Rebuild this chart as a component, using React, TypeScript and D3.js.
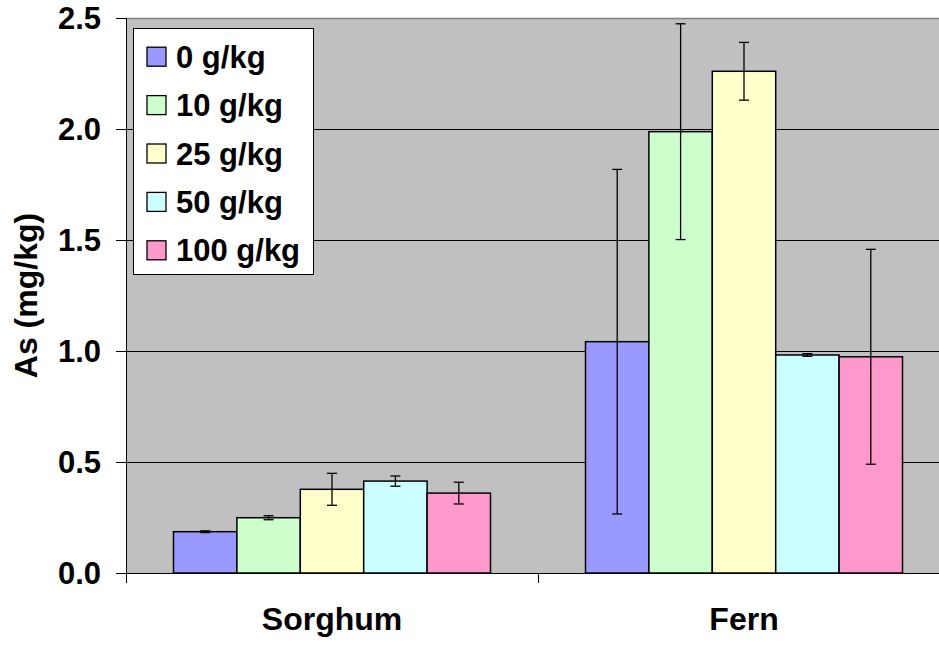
import React from "react";
import * as d3 from "d3";

const categories = ["Sorghum", "Fern"];
const series = ["0 g/kg", "10 g/kg", "25 g/kg", "50 g/kg", "100 g/kg"];
const colors = ["#9999FF", "#CCFFCC", "#FFFFCC", "#CCFFFF", "#FF99CC"];
const sorghumValues = [0.186, 0.249, 0.377, 0.414, 0.36];
const sorghumErrors = [0.004, 0.009, 0.072, 0.023, 0.049];
const fernValues = [1.042, 1.988, 2.26, 0.982, 0.974];
const fernErrors = [0.776, 0.486, 0.13, 0.006, 0.484];
const yTicks = [0, 0.5, 1.0, 1.5, 2.0, 2.5];

const W = 939;
const H = 646;
const left = 126;
const right = 950;
const top = 18;
const bottom = 573;
const FONT = "'Liberation Sans', Arial, Helvetica, sans-serif";

export default function App() {
  const values = [sorghumValues, fernValues];
  const errors = [sorghumErrors, fernErrors];
  const x0 = d3.scaleBand<string>().domain(categories).range([left, right]).paddingInner(0).paddingOuter(0);
  const groupPad = 0.1153;
  const x1 = d3
    .scaleBand<string>()
    .domain(series)
    .range([x0.bandwidth() * groupPad, x0.bandwidth() * (1 - groupPad)])
    .padding(0);
  const y = d3.scaleLinear().domain([0, 2.5]).range([bottom, top]);

  const legendX = 133;
  const legendY = 28;
  const rowH = 48.4;

  return (
    <div style={{ position: "absolute", left: 0, top: 0 }}>
      <svg width={W} height={H} style={{ display: "block" }} fontFamily={FONT}>
        <rect x={0} y={0} width={W} height={H} fill="#fff" />
        <rect x={left} y={top} width={right - left} height={bottom - top} fill="#C0C0C0" />
        <line x1={left} x2={right} y1={top + 0.5} y2={top + 0.5} stroke="#808080" strokeWidth={1.5} />
        {yTicks.slice(1, -1).map((t) => (
          <line key={t} x1={left} x2={right} y1={Math.round(y(t)) + 0.5} y2={Math.round(y(t)) + 0.5} stroke="#000" strokeWidth={1} />
        ))}
        {categories.map((c, ci) =>
          series.map((s, si) => {
            const bx = (x0(c) as number) + (x1(s) as number);
            const bw = x1.bandwidth();
            const v = values[ci][si];
            const e = errors[ci][si];
            const cx = bx + bw / 2;
            return (
              <g key={c + s}>
                <rect x={bx} y={y(v)} width={bw} height={y(0) - y(v)} fill={colors[si]} stroke="#000" strokeWidth={1.5} />
                <line x1={cx} x2={cx} y1={y(v + e)} y2={y(v - e)} stroke="#000" strokeWidth={1.3} />
                <line x1={cx - 5} x2={cx + 5} y1={y(v + e)} y2={y(v + e)} stroke="#000" strokeWidth={1.3} />
                <line x1={cx - 5} x2={cx + 5} y1={y(v - e)} y2={y(v - e)} stroke="#000" strokeWidth={1.3} />
              </g>
            );
          })
        )}
        {/* axes */}
        <line x1={left + 0.5} x2={left + 0.5} y1={top} y2={bottom + 10} stroke="#000" strokeWidth={1} />
        <line x1={left} x2={right} y1={bottom + 0.5} y2={bottom + 0.5} stroke="#000" strokeWidth={1} />
        {yTicks.map((t) => (
          <g key={"yt" + t}>
            <line x1={left - 10} x2={left} y1={Math.round(y(t)) + 0.5} y2={Math.round(y(t)) + 0.5} stroke="#000" strokeWidth={1} />
            <text x={101} y={y(t)} dy="0.36em" textAnchor="end" fontSize={31} fontWeight="bold" fill="#000">
              {t.toFixed(1)}
            </text>
          </g>
        ))}
        {categories.map((c, ci) => (
          <g key={"xc" + c}>
            {ci > 0 && (
              <line x1={(x0(c) as number) + 0.5} x2={(x0(c) as number) + 0.5} y1={bottom} y2={bottom + 10} stroke="#000" strokeWidth={1} />
            )}
            <text x={(x0(c) as number) + x0.bandwidth() / 2} y={630} textAnchor="middle" fontSize={32} fontWeight="bold" fill="#000">
              {c}
            </text>
          </g>
        ))}
        <text
          transform={`translate(37,295.5) rotate(-90)`}
          textAnchor="middle"
          fontSize={32}
          fontWeight="bold"
          fill="#000"
        >
          As (mg/kg)
        </text>
        {/* legend */}
        <rect x={legendX + 0.5} y={legendY + 0.5} width={180} height={246} fill="#fff" stroke="#000" strokeWidth={1} />
        {series.map((s, si) => {
          const cy = 56.7 + si * rowH;
          return (
            <g key={"lg" + s}>
              <rect x={147} y={cy - 9.5} width={19} height={19} fill={colors[si]} stroke="#000" strokeWidth={1.3} />
              <text x={176} y={cy} dy="0.36em" fontSize={31} fontWeight="bold" fill="#000">
                {s}
              </text>
            </g>
          );
        })}
      </svg>
    </div>
  );
}
